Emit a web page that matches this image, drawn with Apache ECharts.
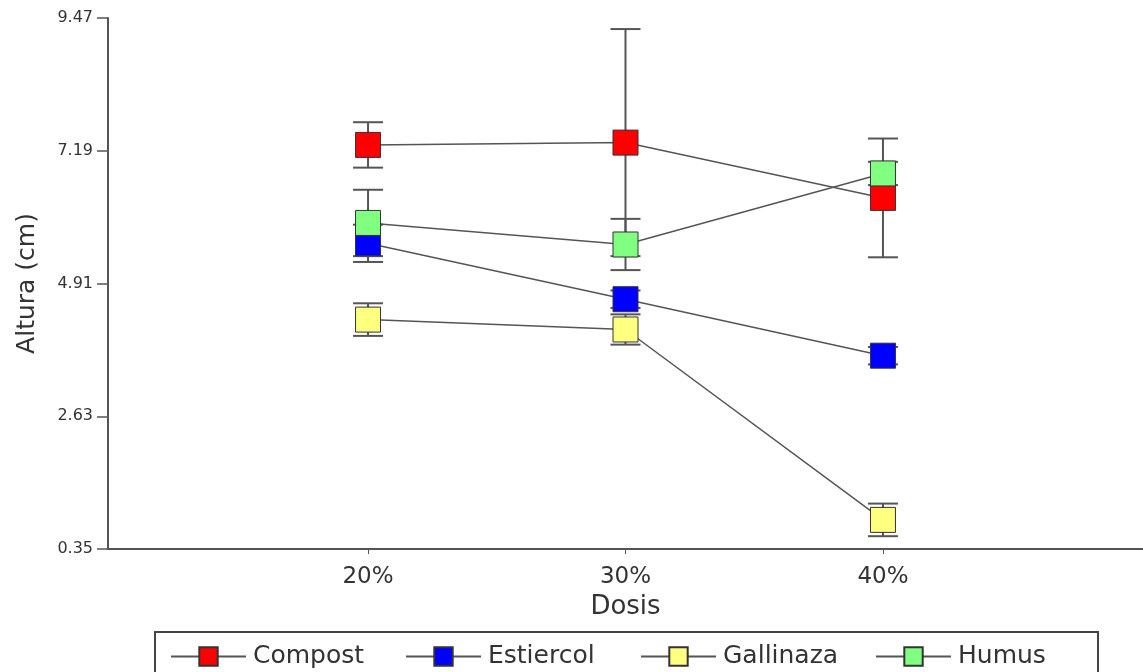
<!DOCTYPE html>
<html>
<head>
<meta charset="utf-8">
<script src="https://cdn.jsdelivr.net/npm/echarts@6/dist/echarts.min.js"></script>
<style>
html,body{margin:0;padding:0;background:#fff;}
#chart{width:1143px;height:672px;}
</style>
</head>
<body>
<div id="chart"></div>
<script>
// ---- data ----
const doses = [20, 30, 40];
const doseLabels = ['20%', '30%', '40%'];
const yTicks = [0.35, 2.63, 4.91, 7.19, 9.47];
const seriesNames = ['Compost', 'Estiercol', 'Gallinaza', 'Humus'];
const compost = [7.29, 7.33, 6.38];
const compostErr = [0.39, 1.95, 1.02];
const estiercol = [5.60, 4.64, 3.67];
const estiercolErr = [0.32, 0.15, 0.15];
const gallinaza = [4.29, 4.12, 0.85];
const gallinazaErr = [0.28, 0.26, 0.28];
const humus = [5.95, 5.58, 6.80];
const humusErr = [0.57, 0.44, 0.20];
const colors = ['#ff0000', '#0000ff', '#ffff80', '#80ff80'];

const means = [compost, estiercol, gallinaza, humus];
const errs = [compostErr, estiercolErr, gallinazaErr, humusErr];

const FONT = 'DejaVu Sans';
const chart = echarts.init(document.getElementById('chart'), null, {renderer: 'canvas'});

const errData = [];
means.forEach((m, s) => {
  m.forEach((v, i) => {
    errData.push([doses[i], v - errs[s][i], v + errs[s][i]]);
  });
});

const lineSeries = seriesNames.map((name, s) => ({
  name: name,
  type: 'line',
  z: 3,
  data: doses.map((d, i) => [d, means[s][i]]),
  symbol: 'rect',
  symbolSize: 25,
  itemStyle: {color: colors[s], borderColor: '#333', borderWidth: 1},
  lineStyle: {color: '#555', width: 1.5},
  emphasis: {disabled: true},
  animation: false
}));

const errSeries = {
  type: 'custom',
  z: 2,
  silent: true,
  animation: false,
  data: errData,
  renderItem: function (params, api) {
    const x = api.value(0);
    const lo = api.coord([x, api.value(1)]);
    const hi = api.coord([x, api.value(2)]);
    const hw = 15;
    const st = {stroke: '#555', lineWidth: 2};
    return {
      type: 'group',
      children: [
        {type: 'line', shape: {x1: lo[0], y1: lo[1], x2: hi[0], y2: hi[1]}, style: st},
        {type: 'line', shape: {x1: lo[0] - hw, y1: lo[1], x2: lo[0] + hw, y2: lo[1]}, style: st},
        {type: 'line', shape: {x1: hi[0] - hw, y1: hi[1], x2: hi[0] + hw, y2: hi[1]}, style: st}
      ]
    };
  }
};

const legendLefts = [165, 400, 635, 870];
const legends = seriesNames.map((name, s) => ({
  data: [name],
  left: legendLefts[s],
  top: 639,
  itemWidth: 75,
  itemHeight: 23,
  itemGap: 0,
  selectedMode: false,
  textStyle: {fontFamily: FONT, fontSize: 25, color: '#333', padding: [0, 0, 0, 2]}
}));

chart.setOption({
  animation: false,
  backgroundColor: '#fff',
  grid: {left: 108, right: 0, top: 18, bottom: 123, containLabel: false, outerBoundsMode: 'none'},
  legend: legends,
  graphic: [{
    type: 'rect',
    shape: {x: 155, y: 632, width: 943, height: 60},
    style: {fill: 'none', stroke: '#444', lineWidth: 2},
    silent: true
  }],
  xAxis: {
    type: 'value',
    min: 9.9,
    max: 50.1,
    name: 'Dosis',
    nameLocation: 'middle',
    nameGap: 44,
    nameTextStyle: {fontFamily: FONT, fontSize: 26, color: '#333'},
    axisLine: {lineStyle: {color: '#555', width: 2}},
    axisTick: {show: true, length: 5, inside: false, customValues: doses, lineStyle: {color: '#555'}},
    axisLabel: {
      customValues: doses,
      margin: 17,
      fontFamily: FONT, fontSize: 23, color: '#333',
      formatter: function (v) { const i = doses.indexOf(v); return i >= 0 ? doseLabels[i] : ''; }
    },
    splitLine: {show: false}
  },
  yAxis: {
    type: 'value',
    min: 0.35,
    max: 9.47,
    name: 'Altura (cm)',
    nameLocation: 'middle',
    nameGap: 68,
    nameRotate: 90,
    nameTextStyle: {fontFamily: FONT, fontSize: 25, color: '#333'},
    axisLine: {show: true, lineStyle: {color: '#555', width: 2}},
    axisTick: {show: true, length: 11, customValues: yTicks, lineStyle: {color: '#555', width: 1.5}},
    axisLabel: {
      customValues: yTicks,
      margin: 15,
      fontFamily: FONT, fontSize: 16, color: '#333',
      formatter: function (v) { return Number(v).toFixed(2); }
    },
    splitLine: {show: false}
  },
  series: [errSeries].concat(lineSeries)
});
</script>
</body>
</html>
